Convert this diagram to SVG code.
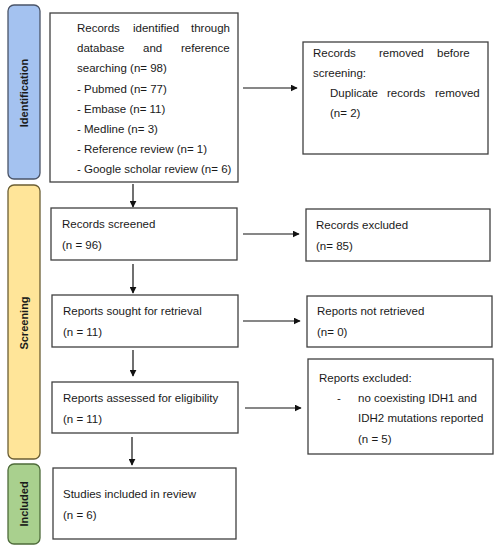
<svg xmlns="http://www.w3.org/2000/svg" width="496" height="550" viewBox="0 0 496 550">
<style>
.box{fill:#fff;stroke:#404040;stroke-width:1.3}
.t{font-family:"Liberation Sans",Arial,sans-serif;font-size:11.5px;fill:#1a1a1a}
.side{font-family:"Liberation Sans",Arial,sans-serif;font-size:11px;font-weight:bold;fill:#1a1a1a;text-anchor:middle}
.c{stroke:#111;stroke-width:1.2;fill:none;marker-end:url(#ah)}
</style>
<defs>
<marker id="ah" viewBox="0 0 10 10" refX="9" refY="5" markerWidth="7" markerHeight="7" markerUnits="userSpaceOnUse" orient="auto">
<path d="M0,0 L10,5 L0,10 z" fill="#111"/>
</marker>
</defs>
<rect width="496" height="550" fill="#fff"/>
<g id="bar-identification">
<rect x="8" y="5" width="32" height="174" rx="6" fill="#A4C2F0" stroke="#4A5468" stroke-width="1.3"/>
<text class="side" transform="translate(28,93) rotate(-90)">Identification</text>
</g>
<g id="bar-screening">
<rect x="8" y="185" width="32" height="274" rx="6" fill="#FFE599" stroke="#6B5E33" stroke-width="1.3"/>
<text class="side" transform="translate(28,323) rotate(-90)">Screening</text>
</g>
<g id="bar-included">
<rect x="8" y="464" width="32" height="80" rx="6" fill="#A9D08E" stroke="#4E6B3A" stroke-width="1.3"/>
<text class="side" transform="translate(28,504) rotate(-90)">Included</text>
</g>
<g id="n-identified">
<rect class="box" x="50" y="13" width="188" height="169"/>
<text class="t" x="77" y="32">Records<tspan x="133">identified</tspan><tspan x="191">through</tspan></text>
<text class="t" x="77" y="52">database<tspan x="143">and</tspan><tspan x="181">reference</tspan></text>
<text class="t" x="77" y="72">searching (n= 98)</text>
<text class="t" x="77" y="93">- Pubmed (n= 77)</text>
<text class="t" x="77" y="113">- Embase (n= 11)</text>
<text class="t" x="77" y="133">- Medline (n= 3)</text>
<text class="t" x="77" y="153">- Reference review (n= 1)</text>
<text class="t" x="77" y="173">- Google scholar review (n= 6)</text>
</g>
<g id="n-removed">
<rect class="box" x="303" y="42" width="185" height="112"/>
<text class="t" x="313" y="57">Records<tspan x="379">removed</tspan><tspan x="437">before</tspan></text>
<text class="t" x="313" y="77">screening:</text>
<text class="t" x="330" y="97">Duplicate<tspan x="387">records</tspan><tspan x="435">removed</tspan></text>
<text class="t" x="330" y="117">(n= 2)</text>
</g>
<g id="n-screened">
<rect class="box" x="51" y="208" width="186" height="52"/>
<text class="t" x="62" y="228">Records screened</text>
<text class="t" x="62" y="249">(n = 96)</text>
</g>
<g id="n-excluded">
<rect class="box" x="306" y="209" width="184" height="52"/>
<text class="t" x="316" y="229">Records excluded</text>
<text class="t" x="316" y="250">(n= 85)</text>
</g>
<g id="n-sought">
<rect class="box" x="52" y="295" width="186" height="52"/>
<text class="t" x="63" y="315">Reports sought for retrieval</text>
<text class="t" x="63" y="336">(n = 11)</text>
</g>
<g id="n-notretrieved">
<rect class="box" x="307" y="296" width="185" height="51"/>
<text class="t" x="317" y="315">Reports not retrieved</text>
<text class="t" x="317" y="336">(n= 0)</text>
</g>
<g id="n-assessed">
<rect class="box" x="52" y="382" width="186" height="51"/>
<text class="t" x="63" y="402">Reports assessed for eligibility</text>
<text class="t" x="63" y="423">(n = 11)</text>
</g>
<g id="n-reportsexcluded">
<rect class="box" x="308" y="359" width="185" height="95"/>
<text class="t" x="319" y="382">Reports excluded:</text>
<text class="t" x="337" y="402">-</text>
<text class="t" x="358" y="402">no coexisting IDH1 and</text>
<text class="t" x="358" y="422">IDH2 mutations reported</text>
<text class="t" x="358" y="443">(n = 5)</text>
</g>
<g id="n-included">
<rect class="box" x="53" y="468" width="183" height="71"/>
<text class="t" x="63" y="498">Studies included in review</text>
<text class="t" x="63" y="519">(n = 6)</text>
</g>
<g id="connectors">
<line class="c" x1="243" y1="88" x2="297" y2="88"/>
<line class="c" x1="133" y1="184" x2="133" y2="207"/>
<line class="c" x1="243" y1="234" x2="299" y2="234"/>
<line class="c" x1="133" y1="264" x2="133" y2="293"/>
<line class="c" x1="243" y1="321" x2="300" y2="321"/>
<line class="c" x1="133" y1="350" x2="133" y2="376"/>
<line class="c" x1="245" y1="408" x2="301" y2="408"/>
<line class="c" x1="132" y1="437" x2="132" y2="465"/>
</g>
</svg>
